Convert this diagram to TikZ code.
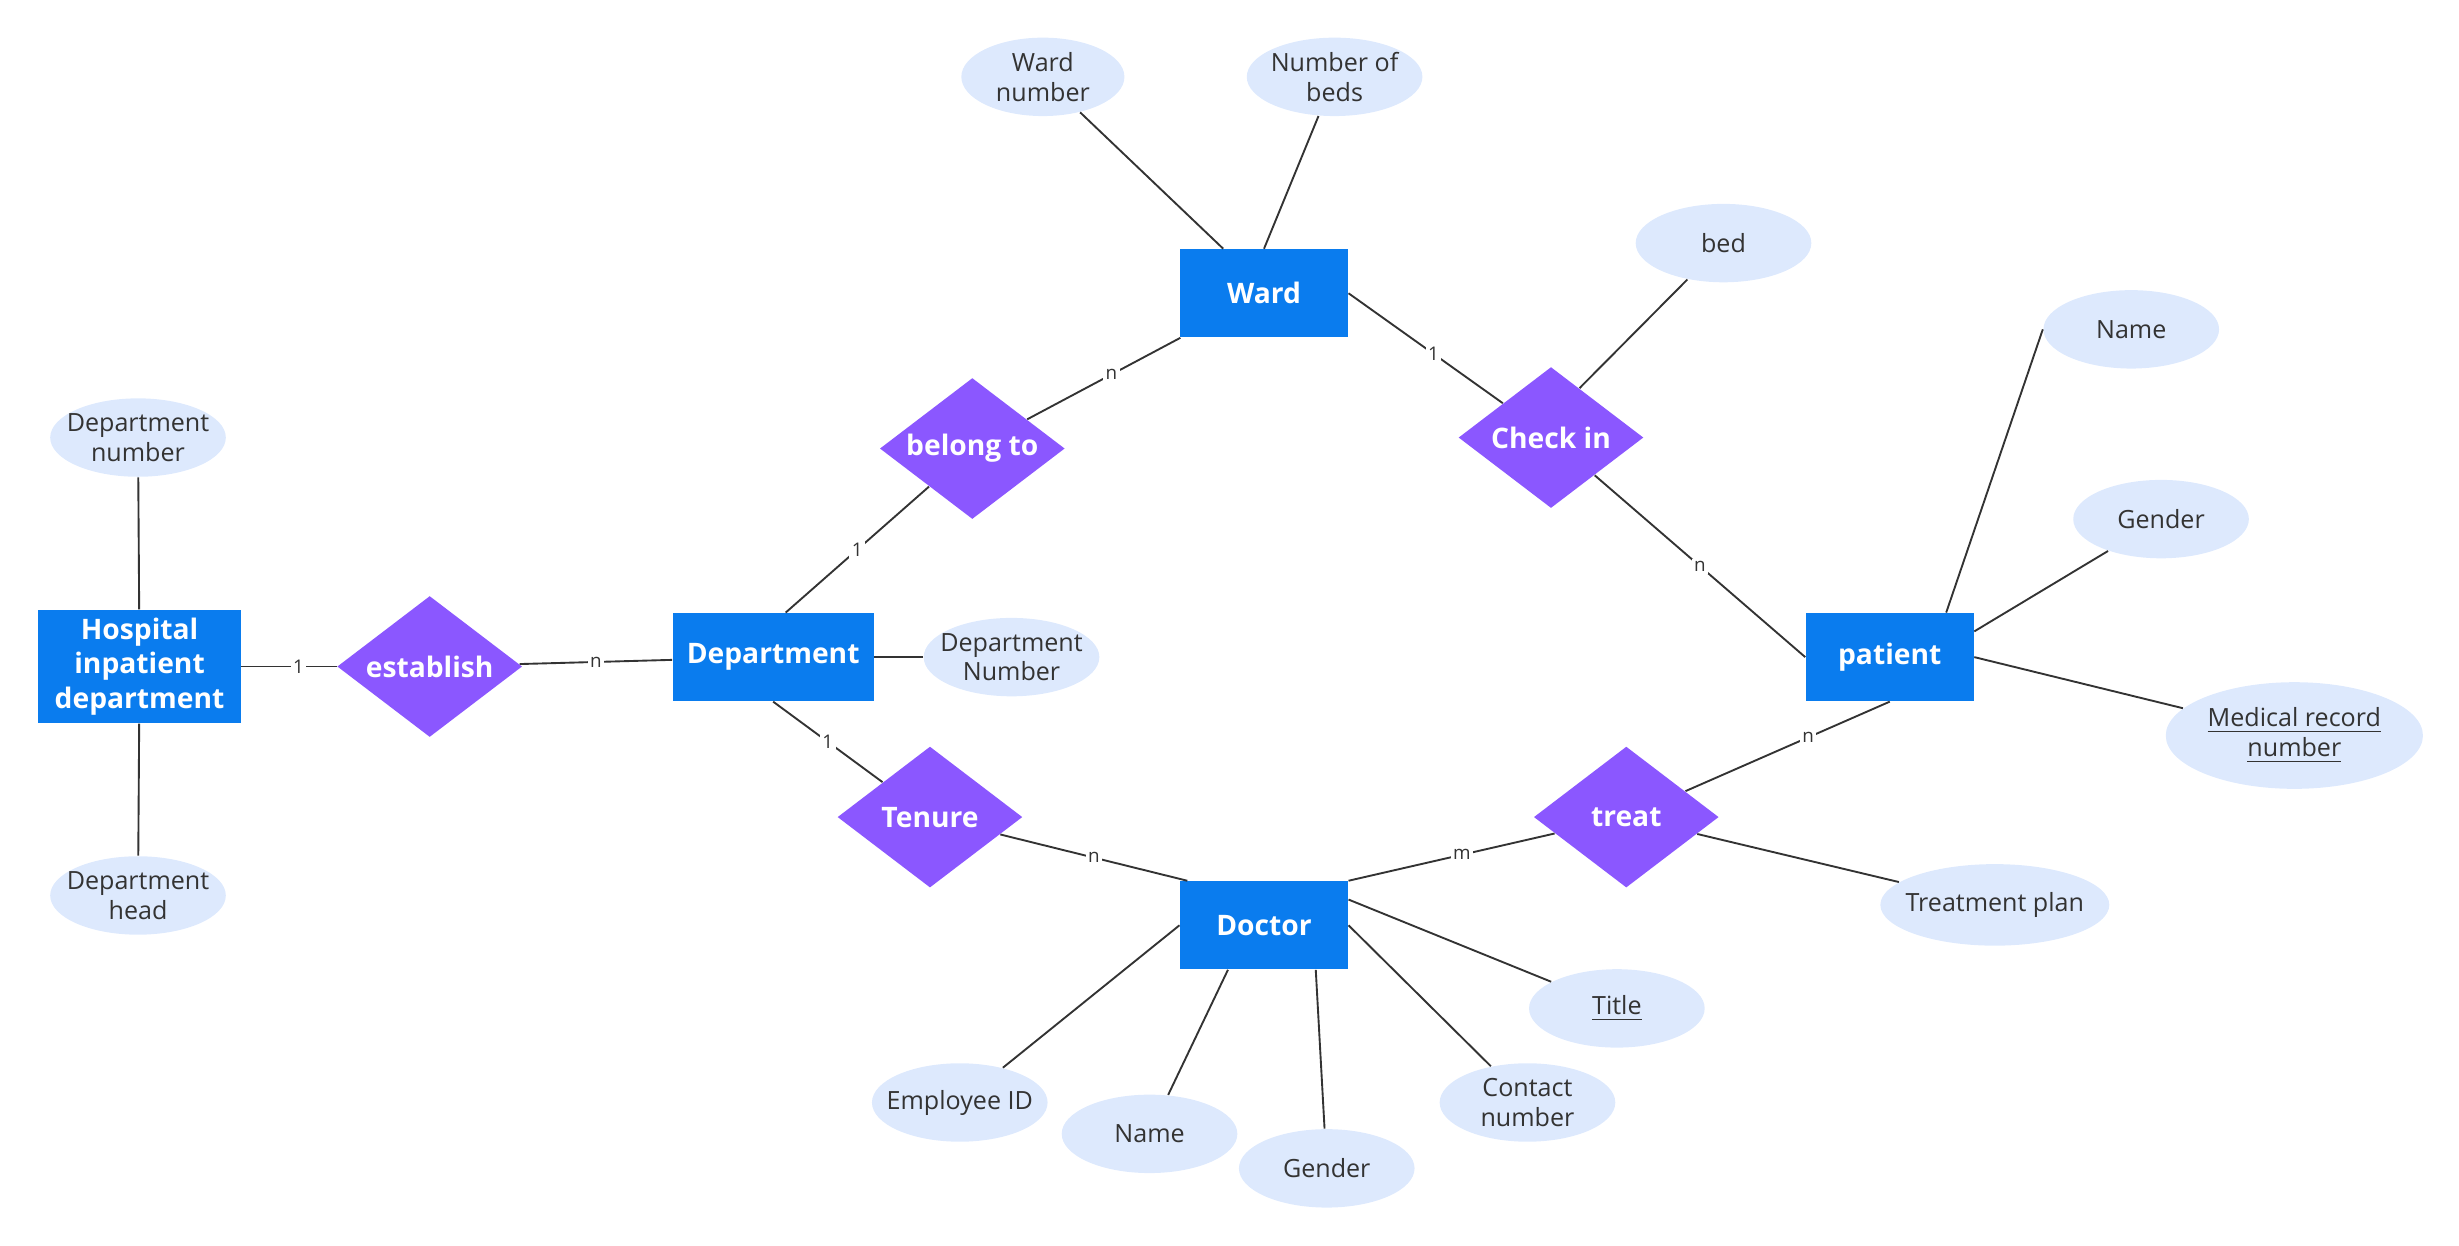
\documentclass[tikz,border=0pt]{standalone}
\usepackage{fontspec}
\setmainfont{Open Sans}
\usetikzlibrary{shapes.geometric,calc}
\definecolor{ent}{RGB}{10,124,238}
\definecolor{rel}{RGB}{139,87,255}
\definecolor{att}{RGB}{221,233,253}
\definecolor{txt}{RGB}{51,51,51}
\begin{document}
\begin{tikzpicture}[x=0.5pt,y=-0.5pt,
 ent/.style={rectangle,fill=ent,text=white,font=\bfseries\fontsize{9}{11}\selectfont,align=center,inner sep=0pt},
 rel/.style={diamond,fill=rel,text=white,font=\bfseries\fontsize{9}{10.5}\selectfont,inner sep=0pt,minimum width=59pt,minimum height=45pt,aspect=1.3},
 att/.style={ellipse,fill=att,text=txt,font=\fontsize{8}{9.5}\selectfont,align=center,inner xsep=-6pt,inner ysep=0pt,minimum width=56pt,minimum height=25pt},
 ln/.style={draw=txt,line width=0.6pt},
 lbl/.style={fill=white,text=txt,font=\fontsize{6}{7}\selectfont,inner sep=0.8pt}]
\useasboundingbox (0,0) rectangle (1568,794);
% entities
\node[ent,minimum width=53.5pt,minimum height=28pt] (ward) at (806,187) {Ward};
\node[ent,minimum width=64pt,minimum height=28pt] (dept) at (493,419) {Department};
\node[ent,minimum width=64.5pt,minimum height=36pt] (hosp) at (89,425) {Hospital\\inpatient\\department};
\node[ent,minimum width=53.5pt,minimum height=28pt] (pat) at (1205,419) {patient};
\node[ent,minimum width=53.5pt,minimum height=28pt] (doc) at (806,590) {Doctor};
% relationships
\node[rel] (belong) at (620,286) {belong to};
\node[rel] (check) at (989,279) {Check in};
\node[rel] (est) at (274,425) {establish};
\node[rel] (ten) at (593,521) {Tenure};
\node[rel] (treat) at (1037,521) {treat};
% attributes
\node[att,minimum width=52pt] (wn) at (665,49) {Ward\\number};
\node[att] (nb) at (851,49) {Number of\\beds};
\node[att] (bed) at (1099,155) {bed};
\node[att] (pname) at (1359,210) {Name};
\node[att] (pgen) at (1378,331) {Gender};
\node[att,minimum width=82pt,minimum height=34pt] (mrn) at (1463,469) {\underline{Medical record}\\\underline{number}};
\node[att,minimum width=73pt,minimum height=26pt] (tp) at (1272,577) {Treatment plan};
\node[att] (title) at (1031,643) {\underline{Title}};
\node[att] (cn) at (974,703) {Contact\\number};
\node[att] (dgen) at (846,745) {Gender};
\node[att] (dname) at (733,723) {Name};
\node[att] (eid) at (612,703) {Employee ID};
\node[att] (dnum) at (645,419) {Department\\Number};
\node[att] (hnum) at (88,279) {Department\\number};
\node[att] (hhead) at (88,571) {Department\\head};
% relationship edges
\draw[ln] (ward) -- node[lbl,pos=0.45]{n} (belong);
\draw[ln] (belong) -- node[lbl,pos=0.5]{1} ($(dept.north)+(8,0)$);
\draw[ln] (ward.east) -- node[lbl,pos=0.55]{1} (check);
\draw[ln] (check) -- node[lbl,pos=0.5]{n} (pat.west);
\draw[ln] (hosp) -- node[lbl,pos=0.6]{1} (est);
\draw[ln] (est) -- node[lbl,pos=0.5]{n} (dept);
\draw[ln] (dept.south) -- node[lbl,pos=0.5]{1} (ten);
\draw[ln] (ten) -- node[lbl,pos=0.5]{n} ($(doc.north west)+(5,0)$);
\draw[ln] (doc.north east) -- node[lbl,pos=0.55]{m} (treat);
\draw[ln] (treat) -- node[lbl,pos=0.6]{n} (pat.south);
% attribute edges
\draw[ln] (wn) -- ($(ward.north)+(-26,0)$);
\draw[ln] (nb) -- (ward.north);
\draw[ln] (bed) -- (check.60);
\draw[ln] (pname.west) -- ($(pat.north)+(36,0)$);
\draw[ln] (pgen) -- ($(pat.north east)+(0,12)$);
\draw[ln] (mrn) -- (pat.east);
\draw[ln] (treat) -- (tp);
\draw[ln] (title) -- ($(doc.north east)+(0,12)$);
\draw[ln] (cn) -- (doc.east);
\draw[ln] (dgen) -- ($(doc.south)+(33,0)$);
\draw[ln] (dname) -- ($(doc.south)+(-23,0)$);
\draw[ln] (eid) -- (doc.west);
\draw[ln] (dnum) -- (dept);
\draw[ln] (hnum) -- (hosp);
\draw[ln] (hhead) -- (hosp);
\end{tikzpicture}
\end{document}
